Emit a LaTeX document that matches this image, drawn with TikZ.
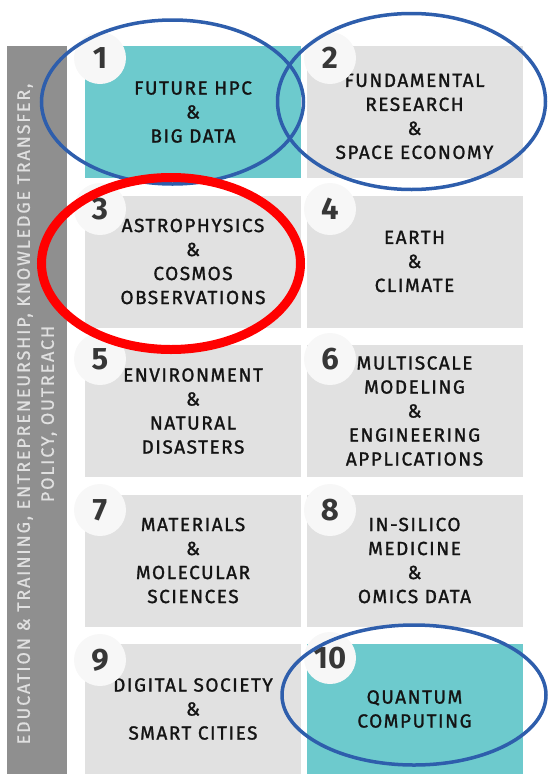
\documentclass[tikz,border=0pt]{standalone}
\usepackage{fontspec}
\setmainfont{Fira Sans}
\newfontfamily\tilefont{Fira Sans}[LetterSpace=8, FakeBold=1.3]
\newfontfamily\sidefont{Fira Sans}[LetterSpace=10, FakeBold=0.6]
\usepackage{tikz}
\usetikzlibrary{positioning}
\definecolor{tealtile}{RGB}{109,202,205}
\definecolor{graytile}{RGB}{225,225,225}
\definecolor{sidegray}{RGB}{143,143,143}
\definecolor{ringblue}{RGB}{46,94,172}
\definecolor{numgray}{RGB}{55,55,55}

\tikzset{
  tile/.style={minimum width=216pt, minimum height=132pt, inner sep=0pt, align=center,
    text=black!92, font=\tilefont\fontsize{19}{24}\selectfont},
  numdisc/.style={circle, fill=white!97!black, minimum size=52pt, inner sep=0pt,
    text=numgray, font=\fontsize{31}{31}\selectfont\bfseries},
  bluering/.style={draw=ringblue, line width=3.5pt},
  redring/.style={draw=red, line width=9pt}
}

\begin{document}
\begin{tikzpicture}[x=1pt, y=-1pt]
    \useasboundingbox (0,0) rectangle (549,774);

    % side bar
    \fill[sidegray] (7,46) rectangle (67,774);
    \node[rotate=90, align=center, text=white!88!black, font=\sidefont\fontsize{18}{24}\selectfont] (side) at (37,414)
        {EDUCATION \& TRAINING, ENTREPRENEURSHIP, KNOWLEDGE TRANSFER,\\ POLICY, OUTREACH};

    % tiles
    \node[tile, fill=tealtile] (t1) at (193,112) {FUTURE HPC\\ \&\\ BIG DATA};
    \node[tile, fill=graytile] (t2) at (414.5,112) {\\[-2pt] FUNDAMENTAL\\ RESEARCH\\ \&\\ SPACE ECONOMY};
    \node[tile, fill=graytile] (t3) at (193,261.5) {ASTROPHYSICS\\ \&\\ COSMOS\\ OBSERVATIONS};
    \node[tile, fill=graytile] (t4) at (414.5,261.5) {EARTH\\ \&\\ CLIMATE};
    \node[tile, fill=graytile] (t5) at (193,411) {ENVIRONMENT\\ \&\\ NATURAL\\ DISASTERS};
    \node[tile, fill=graytile] (t6) at (414.5,411) {MULTISCALE\\ MODELING\\ \&\\ ENGINEERING\\ APPLICATIONS};
    \node[tile, fill=graytile] (t7) at (193,560.5) {MATERIALS\\ \&\\ MOLECULAR\\ SCIENCES};
    \node[tile, fill=graytile] (t8) at (414.5,560.5) {IN-SILICO\\ MEDICINE\\ \&\\ OMICS DATA};
    \node[tile, fill=graytile, minimum height=130pt] (t9) at (193,709) {DIGITAL SOCIETY\\ \&\\ SMART CITIES};
    \node[tile, fill=tealtile, minimum height=130pt] (t10) at (414.5,709) {QUANTUM\\ COMPUTING};

    % numbers
    \node[numdisc] (n1) at (100,58) {1};
    \node[numdisc] (n2) at (330,58) {2};
    \node[numdisc] (n3) at (100,209) {3};
    \node[numdisc] (n4) at (330,209) {4};
    \node[numdisc] (n5) at (100,359) {5};
    \node[numdisc] (n6) at (330,359) {6};
    \node[numdisc] (n7) at (100,510) {7};
    \node[numdisc] (n8) at (330,510) {8};
    \node[numdisc] (n9) at (100,660) {9};
    \node[numdisc] (n10) at (330,658) {10};

    % highlight rings
    \draw[bluering] (172.5,102) ellipse [x radius=131, y radius=82];
    \draw[bluering] (411.5,101.5) ellipse [x radius=134, y radius=88];
    \draw[redring] (171,263.5) ellipse [x radius=129.5, y radius=86];
    \draw[bluering] (414,695) ellipse [x radius=132, y radius=70];
\end{tikzpicture}
\end{document}
